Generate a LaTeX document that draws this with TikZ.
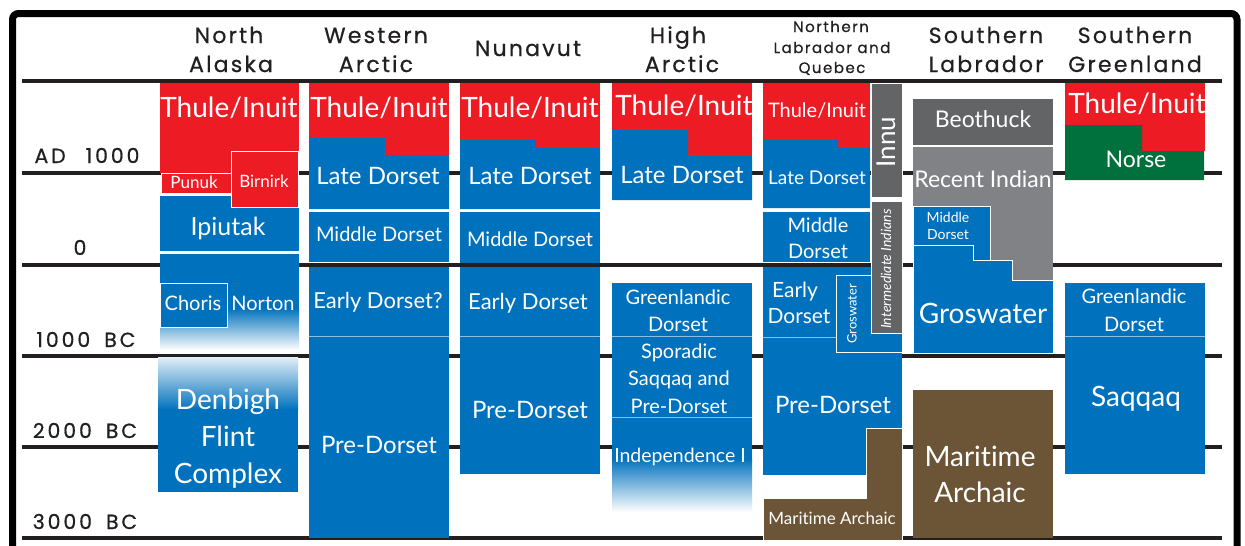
\documentclass[tikz,border=0pt]{standalone}
\usepackage{fontspec}
\setmainfont{Lato}[Ligatures=NoCommon]
\newfontfamily\hdrfont[LetterSpace=10, FakeBold=0.6]{Poppins}
\newfontfamily\erafont[LetterSpace=14, FakeBold=0.6]{Poppins}
\definecolor{thulered}{HTML}{ED1C24}
\definecolor{dorsetblue}{HTML}{0071BC}
\definecolor{indiangray}{HTML}{636466}
\definecolor{recentgray}{HTML}{808285}
\definecolor{archaicbrown}{HTML}{6B5536}
\definecolor{norsegreen}{HTML}{00703C}
\definecolor{ink}{HTML}{231F20}
\newcommand{\fs}[1]{\fontsize{#1}{#1}\selectfont}
\usetikzlibrary{positioning}

\begin{document}
\begin{tikzpicture}[x=1pt, y=-1pt,
    blk/.style={draw=white, line width=1pt},
    seam/.style={draw=white!55!dorsetblue, line width=0.8pt},
    lbl/.style={text=white, anchor=base, inner sep=0pt},
    vlbl/.style={text=white, anchor=center, inner sep=0pt, rotate=90},
    hdr/.style={text=ink, anchor=base, inner sep=0pt, font=\hdrfont\fs{22}},
    era/.style={text=ink, anchor=base, inner sep=0pt, font=\erafont\fs{20.5}},
    timeline/.style={draw=ink, line width=3.5pt}]

    \useasboundingbox (0,0) rectangle (1245,546);
    \clip (0,0) rectangle (1245,546);
    \fill[white] (0,0) rectangle (1245,546);

    % Marco
    \draw[line width=7pt, rounded corners=6pt] (12.5,13.5) rectangle (1237,600);

    % Lineas de tiempo
    \foreach \y in {81,173,265,356,447,538}
        \draw[timeline] (22,\y) -- (1222,\y);

    % Fechas
    \node[era] (ad1000) at (87,163) {AD\hspace*{20pt}1000};
    \node[era] (zero) at (80,255) {0};
    \node[era] (bc1000) at (86,347) {1000\hspace*{14pt}BC};
    \node[era] (bc2000) at (85,438) {2000\hspace*{14pt}BC};
    \node[era] (bc3000) at (85,529) {3000\hspace*{14pt}BC};

    % Regiones
    \node[hdr] (alaskaA) at (229,43) {North};
    \node[hdr] (alaskaB) at (231,72) {Alaska};
    \node[hdr] (westernA) at (376,43) {Western};
    \node[hdr] (westernB) at (376,72) {Arctic};
    \node[hdr] (nunavut) at (528,56) {Nunavut};
    \node[hdr] (highA) at (678,43) {High};
    \node[hdr] (highB) at (682,72) {Arctic};
    \node[hdr, font=\hdrfont\fs{15}] (nlabA) at (831,32) {Northern};
    \node[hdr, font=\hdrfont\fs{15}] (nlabB) at (832,53) {Labrador and};
    \node[hdr, font=\hdrfont\fs{15}] (nlabC) at (832,73) {Quebec};
    \node[hdr] (slabA) at (986,43) {Southern};
    \node[hdr] (slabB) at (986,72) {Labrador};
    \node[hdr] (sgreenA) at (1135,43) {Southern};
    \node[hdr] (sgreenB) at (1135,72) {Greenland};

    % North Alaska
    \fill[thulered] (160,83) rectangle (299,173);
    \fill[dorsetblue] (160,196) rectangle (299,251);
    \draw[blk, fill=thulered] (161,173) rectangle (231,193);
    \draw[blk, fill=thulered] (231,151) rectangle (298,207);
    \fill[dorsetblue] (160,254) rectangle (299,308);
    \shade[top color=dorsetblue, bottom color=white] (160,308) rectangle (299,350);
    \draw[blk, fill=dorsetblue] (160,283) rectangle (227,327);
    \shade[top color=dorsetblue!12, bottom color=dorsetblue] (158,357) rectangle (298,410);
    \fill[dorsetblue] (158,409) rectangle (298,492);
    \node[lbl, font=\fs{28}] (thuleNA) at (229,117) {Thule/Inuit};
    \node[lbl, font=\fs{17}] (punuk) at (194,188) {Punuk};
    \node[lbl, font=\fs{17}] (birnirk) at (264,187) {Birnirk};
    \node[lbl, font=\fs{25}] (ipiutak) at (228,235) {Ipiutak};
    \node[lbl, font=\fs{20}] (choris) at (193,310) {Choris};
    \node[lbl, font=\fs{20}] (norton) at (263,310) {Norton};
    \node[lbl, font=\fs{28}] (denbighA) at (228,409) {Denbigh};
    \node[lbl, font=\fs{28}] (denbighB) at (228,446) {Flint};
    \node[lbl, font=\fs{28}] (denbighC) at (228,483) {Complex};

    % Western Arctic
    \fill[thulered] (309,83) rectangle (449,155);
    \fill[dorsetblue] (309,137) -- (385,137) -- (385,155) -- (449,155) -- (449,209) -- (309,209) -- cycle;
    \fill[dorsetblue] (309,212) rectangle (449,262);
    \fill[dorsetblue] (309,267) rectangle (449,538);
    \draw[seam] (309,336.5) -- (449,336.5);
    \node[lbl, font=\fs{28}] (thuleWA) at (379,117) {Thule/Inuit};
    \node[lbl, font=\fs{24}] (lateWA) at (378,184) {Late Dorset};
    \node[lbl, font=\fs{20}] (middleWA) at (379,241) {Middle Dorset};
    \node[lbl, font=\fs{22}] (earlyWA) at (378,308) {Early Dorset?};
    \node[lbl, font=\fs{24}] (preWA) at (379,453) {Pre-Dorset};

    % Nunavut
    \fill[thulered] (460,83) rectangle (600,148);
    \fill[dorsetblue] (460,140) -- (535,140) -- (535,148) -- (600,148) -- (600,209) -- (460,209) -- cycle;
    \fill[dorsetblue] (460,212) rectangle (600,263);
    \fill[dorsetblue] (460,267) rectangle (600,474);
    \draw[seam] (460,336.5) -- (600,336.5);
    \node[lbl, font=\fs{28}] (thuleNU) at (530,117) {Thule/Inuit};
    \node[lbl, font=\fs{24}] (lateNU) at (530,184) {Late Dorset};
    \node[lbl, font=\fs{20}] (middleNU) at (530,246) {Middle Dorset};
    \node[lbl, font=\fs{22}] (earlyNU) at (528,309) {Early Dorset};
    \node[lbl, font=\fs{24}] (preNU) at (530,418) {Pre-Dorset};

    % High Arctic
    \fill[thulered] (612,83) rectangle (752,156);
    \fill[dorsetblue] (612,129) -- (688,129) -- (688,156) -- (752,156) -- (752,200) -- (612,200) -- cycle;
    \fill[dorsetblue] (612,283) rectangle (752,458);
    \shade[top color=dorsetblue, bottom color=white] (612,458) rectangle (752,512);
    \draw[seam] (612,336.5) -- (752,336.5);
    \draw[seam] (612,417.5) -- (752,417.5);
    \node[lbl, font=\fs{28}] (thuleHA) at (684,115) {Thule/Inuit};
    \node[lbl, font=\fs{24}] (lateHA) at (682,183) {Late Dorset};
    \node[lbl, font=\fs{20}] (greenHA) at (678,304) {Greenlandic};
    \node[lbl, font=\fs{20}] (greenHB) at (678,331) {Dorset};
    \node[lbl, font=\fs{20}] (sporA) at (679,358) {Sporadic};
    \node[lbl, font=\fs{20}] (sporB) at (679,385) {Saqqaq and};
    \node[lbl, font=\fs{20}] (sporC) at (679,413) {Pre-Dorset};
    \node[lbl, font=\fs{19.5}] (indep) at (680,462) {Independence I};

    % Northern Labrador and Quebec
    \fill[thulered] (763,83) rectangle (870,148);
    \fill[dorsetblue] (763,140) -- (838,140) -- (838,148) -- (870,148) -- (870,208) -- (763,208) -- cycle;
    \draw[blk, fill=indiangray] (871,83) rectangle (902,197);
    \fill[dorsetblue] (763,212) rectangle (870,262);
    \fill[dorsetblue] (763,267) rectangle (902,475);
    \draw[seam] (763,337) -- (902,337);
    \draw[blk, fill=dorsetblue] (836,275) rectangle (902,352);
    \draw[blk, fill=indiangray] (871,201) rectangle (902,333);
    \draw[blk, fill=archaicbrown] (866,428) -- (902,428) -- (902,540) -- (763,540) -- (763,498) -- (866,498) -- cycle;
    \node[lbl, font=\fs{20}] (thuleNL) at (817,117) {Thule/Inuit};
    \node[lbl, font=\fs{19}] (lateNL) at (817,184) {Late Dorset};
    \node[lbl, font=\fs{20}] (middleNLA) at (818,232) {Middle};
    \node[lbl, font=\fs{20}] (middleNLB) at (818,258) {Dorset};
    \node[lbl, font=\fs{21}] (earlyNLA) at (795,297) {Early};
    \node[lbl, font=\fs{21}] (earlyNLB) at (799,323) {Dorset};
    \node[vlbl, font=\fs{26}] (innu) at (886,142) {Innu};
    \node[vlbl, font=\itshape\fs{14}] (interm) at (886,269) {Intermediate Indians};
    \node[vlbl, font=\fs{13}] (groswNL) at (852,314) {Groswater};
    \node[lbl, font=\fs{24}] (preNL) at (833,413) {Pre-Dorset};
    \node[lbl, font=\fs{17}] (maritNL) at (832,524) {Maritime Archaic};

    % Southern Labrador
    \fill[indiangray] (913,99) rectangle (1053,145);
    \fill[recentgray] (913,147) rectangle (1053,282);
    \draw[blk, fill=dorsetblue] (913,206) rectangle (990,260);
    \draw[blk, fill=dorsetblue] (913,245) -- (973,245) -- (973,260) -- (1012,260) -- (1012,280) -- (1053,280) -- (1053,353) -- (913,353) -- cycle;
    \fill[archaicbrown] (913,390) rectangle (1053,538);
    \node[lbl, font=\fs{23}] (beothuck) at (983,127) {Beothuck};
    \node[lbl, font=\fs{23}] (recent) at (983,187) {Recent Indian};
    \node[lbl, font=\fs{14}] (middleSLA) at (948,222) {Middle};
    \node[lbl, font=\fs{14}] (middleSLB) at (948,239) {Dorset};
    \node[lbl, font=\fs{28}] (groswSL) at (983,323) {Groswater};
    \node[lbl, font=\fs{28}] (maritSLA) at (980,466) {Maritime};
    \node[lbl, font=\fs{28}] (maritSLB) at (980,502) {Archaic};

    % Southern Greenland
    \fill[thulered] (1065,83) rectangle (1205,151);
    \fill[norsegreen] (1065,125) -- (1142,125) -- (1142,151) -- (1204,151) -- (1204,180) -- (1065,180) -- cycle;
    \fill[dorsetblue] (1065,283) rectangle (1205,474);
    \draw[seam] (1065,336.5) -- (1205,336.5);
    \node[lbl, font=\fs{28}] (thuleSG) at (1137,113) {Thule/Inuit};
    \node[lbl, font=\fs{23}] (norse) at (1136,167) {Norse};
    \node[lbl, font=\fs{20}] (greenSGA) at (1134,303) {Greenlandic};
    \node[lbl, font=\fs{20}] (greenSGB) at (1134,331) {Dorset};
    \node[lbl, font=\fs{28}] (saqqaq) at (1136,406) {Saqqaq};
\end{tikzpicture}
\end{document}
